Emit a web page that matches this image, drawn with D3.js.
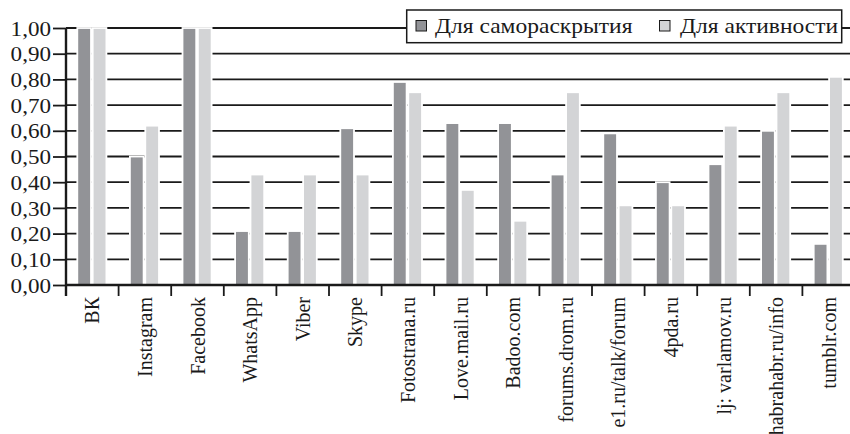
<!DOCTYPE html>
<html><head><meta charset="utf-8">
<script src="https://cdn.jsdelivr.net/npm/d3@7"></script>
<style>
html,body{margin:0;padding:0;background:#fff;overflow:hidden;}
text{font-family:"Liberation Serif","Times New Roman",serif;fill:#1a1a1a;}
</style></head>
<body><svg id="c" width="850" height="434"></svg>
<script>
const categories = ["ВК","Instagram","Facebook","WhatsApp","Viber","Skype","Fotostrana.ru","Love.mail.ru","Badoo.com","forums.drom.ru","e1.ru/talk/forum","4pda.ru","lj: varlamov.ru","habrahabr.ru/info","tumblr.com"];
const seriesNames = ["Для самораскрытия","Для активности"];
const selfDisclosure = [1.00,0.50,1.00,0.21,0.21,0.61,0.79,0.63,0.63,0.43,0.59,0.40,0.47,0.60,0.16];
const activity = [1.00,0.62,1.00,0.43,0.43,0.43,0.75,0.37,0.25,0.75,0.31,0.31,0.62,0.75,0.81];
const yTicks = [0,0.1,0.2,0.3,0.4,0.5,0.6,0.7,0.8,0.9,1.0];
const colors = ["#929397","#d3d4d6"];

const svg = d3.select("#c");
const mLeft = 66, mBottom = 285, mTop = 28, mRight = 855;
const x = d3.scaleBand().domain(categories).range([mLeft, mRight]).padding(0);
const xi = d3.scaleBand().domain([0,1]).range([11.3, 40.4]).paddingInner(0.11);
const y = d3.scaleLinear().domain([0,1]).range([mBottom, mTop]);

// gridlines
svg.append("g").selectAll("line").data(yTicks.filter(d=>d>0)).join("line")
  .attr("x1", mLeft).attr("x2", 850).attr("y1", d=>y(d)).attr("y2", d=>y(d))
  .attr("stroke", "#1a1a1a").attr("stroke-width", 1.8);

// bars
const data = categories.map((c,i)=>({c, v:[selfDisclosure[i], activity[i]]}));
const g = svg.append("g").selectAll("g").data(data).join("g")
  .attr("transform", d=>`translate(${x(d.c)},0)`);
g.selectAll("rect").data(d=>d.v.map((v,k)=>({v,k}))).join("rect")
  .attr("x", d=>xi(d.k)).attr("width", xi.bandwidth())
  .attr("y", d=>y(d.v)).attr("height", d=>mBottom - y(d.v))
  .attr("fill", d=>colors[d.k]).attr("stroke", "#fff").attr("stroke-width", 1.8);

// y axis
const ya = svg.append("g").attr("transform", `translate(${mLeft},0)`)
  .call(d3.axisLeft(y).tickValues(yTicks).tickSize(13).tickPadding(2)
    .tickFormat(d=>d3.format(".2f")(d).replace(".", ",")));
ya.select(".domain").remove();
ya.selectAll(".tick line").attr("stroke", "#1a1a1a").attr("stroke-width", 1.8);
ya.selectAll(".tick text").attr("font-size", 21).attr("font-family", "Liberation Serif").attr("fill","#1a1a1a")
  .attr("transform","translate(-15,0) scale(1.1,1) translate(15,0)").attr("dy","0.34em");
svg.append("line").attr("x1", mLeft).attr("x2", mLeft).attr("y1", mTop).attr("y2", mBottom+11)
  .attr("stroke", "#1a1a1a").attr("stroke-width", 2.4);

// x axis
svg.append("line").attr("x1", mLeft).attr("x2", 850).attr("y1", mBottom).attr("y2", mBottom)
  .attr("stroke", "#1a1a1a").attr("stroke-width", 2.6);
svg.append("g").selectAll("line").data(categories).join("line")
  .attr("x1", d=>x(d)).attr("x2", d=>x(d)).attr("y1", mBottom).attr("y2", mBottom+11)
  .attr("stroke", "#1a1a1a").attr("stroke-width", 1.8);
svg.append("g").selectAll("text").data(categories).join("text")
  .attr("transform", d=>`translate(${x(d)+x.bandwidth()/2},${mBottom+12}) rotate(-90)`)
  .attr("text-anchor", "end").attr("dy", "0.35em").attr("font-size", 20).text(d=>d);

// legend
const lg = svg.append("g");
lg.append("rect").attr("x", 406.7).attr("y", 10).attr("width", 435).attr("height", 32.7)
  .attr("fill", "#fff").attr("stroke", "#1a1a1a").attr("stroke-width", 1.5);
const sw = [416, 659.5], tx = [435, 680];
seriesNames.forEach((n,k)=>{
  lg.append("rect").attr("x", sw[k]).attr("y", 20.5).attr("width", 10.5).attr("height", 10.5)
    .attr("fill", colors[k]).attr("stroke", "#1a1a1a").attr("stroke-width", 1);
  lg.append("text").attr("x", tx[k]).attr("y", 33).attr("font-size", 21).text(n)
    .attr("transform", `translate(${tx[k]},0) scale(1.12,1) translate(${-tx[k]},0)`);
});
</script></body></html>
